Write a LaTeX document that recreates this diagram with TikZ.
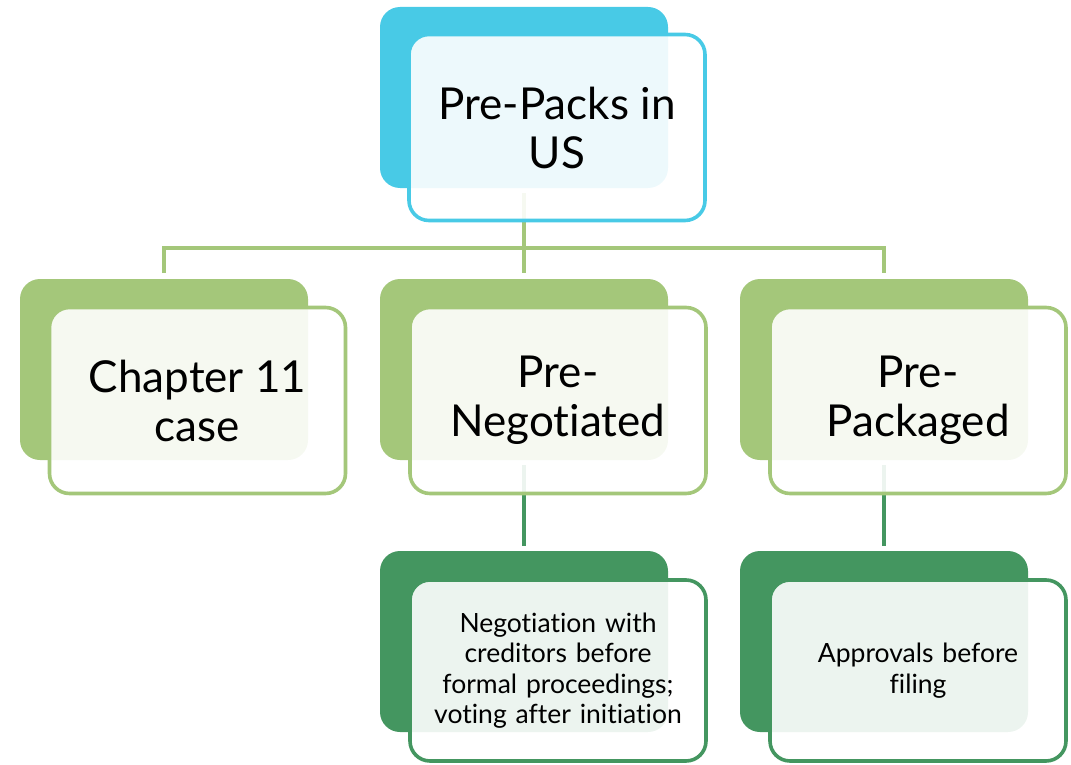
\documentclass[tikz,border=0pt]{standalone}
\usepackage{fontspec}
\setmainfont{Lato}[Ligatures=NoCommon]
\definecolor{skyc}{HTML}{48CAE6}
\definecolor{leafc}{HTML}{A4C77A}
\definecolor{pinec}{HTML}{449660}
\tikzset{
  backbox/.style={rectangle, rounded corners=20pt, inner sep=0pt,
    minimum width=288pt, minimum height=181pt, fill=#1, draw=none},
  frontbox/.style={rectangle, rounded corners=20pt, inner sep=0pt,
    minimum width=296pt, minimum height=186pt, draw=#1, line width=3.6pt,
    fill=white, fill opacity=0.9, text opacity=1, align=center},
  bigtext/.style={font=\fontsize{44}{49}\selectfont},
  smalltext/.style={font=\fontsize{26.5}{30.5}\selectfont, text width=265pt},
  link/.style={line width=4.5pt, draw=#1},
}
\begin{document}
\begin{tikzpicture}[x=1pt,y=-1pt]
\useasboundingbox (0,0) rectangle (1071,765);
% connectors sit underneath the boxes
\coordinate (barL) at (164,248);
\coordinate (barR) at (884,248);
\coordinate (tL) at (164,273);
\coordinate (tM) at (524,273);
\coordinate (tR) at (884,273);
\coordinate (sM) at (524,193);
\draw[link=leafc] (sM) -- (tM);
\draw[link=leafc, line cap=butt] (tL) -- (barL) -- (barR) -- (tR);
\coordinate (aM) at (524,465);
\coordinate (bM) at (524,546);
\coordinate (aR) at (884,465);
\coordinate (bR) at (884,546);
\draw[link=pinec] (aM) -- (bM);
\draw[link=pinec] (aR) -- (bR);

% level 1
\node[backbox=skyc] (rootb) at (524,97.5) {};
\node[frontbox=skyc, bigtext] (root) at (557,127.5) {Pre-Packs in\\US};

% level 2
\node[backbox=leafc] (chb) at (164,369.5) {};
\node[frontbox=leafc, bigtext] (ch) at (197.5,400.5) {Chapter 11\\case};
\node[backbox=leafc] (negb) at (524,369.5) {};
\node[frontbox=leafc, bigtext] (neg) at (558,400.5) {Pre-\\Negotiated};
\node[backbox=leafc] (pkgb) at (884,369.5) {};
\node[frontbox=leafc, bigtext] (pkg) at (918,400.5) {Pre-\\Packaged};

% level 3
\node[backbox=pinec] (negdb) at (524,641.5) {};
\node[frontbox=pinec, smalltext, minimum height=181pt] (negd) at (558,670.5)
  {Negotiation with\\creditors before\\formal proceedings;\\voting after initiation};
\node[backbox=pinec] (pkgdb) at (884,641.5) {};
\node[frontbox=pinec, smalltext, minimum height=181pt] (pkgd) at (918,670.5)
  {Approvals before\\filing};
\end{tikzpicture}
\end{document}
